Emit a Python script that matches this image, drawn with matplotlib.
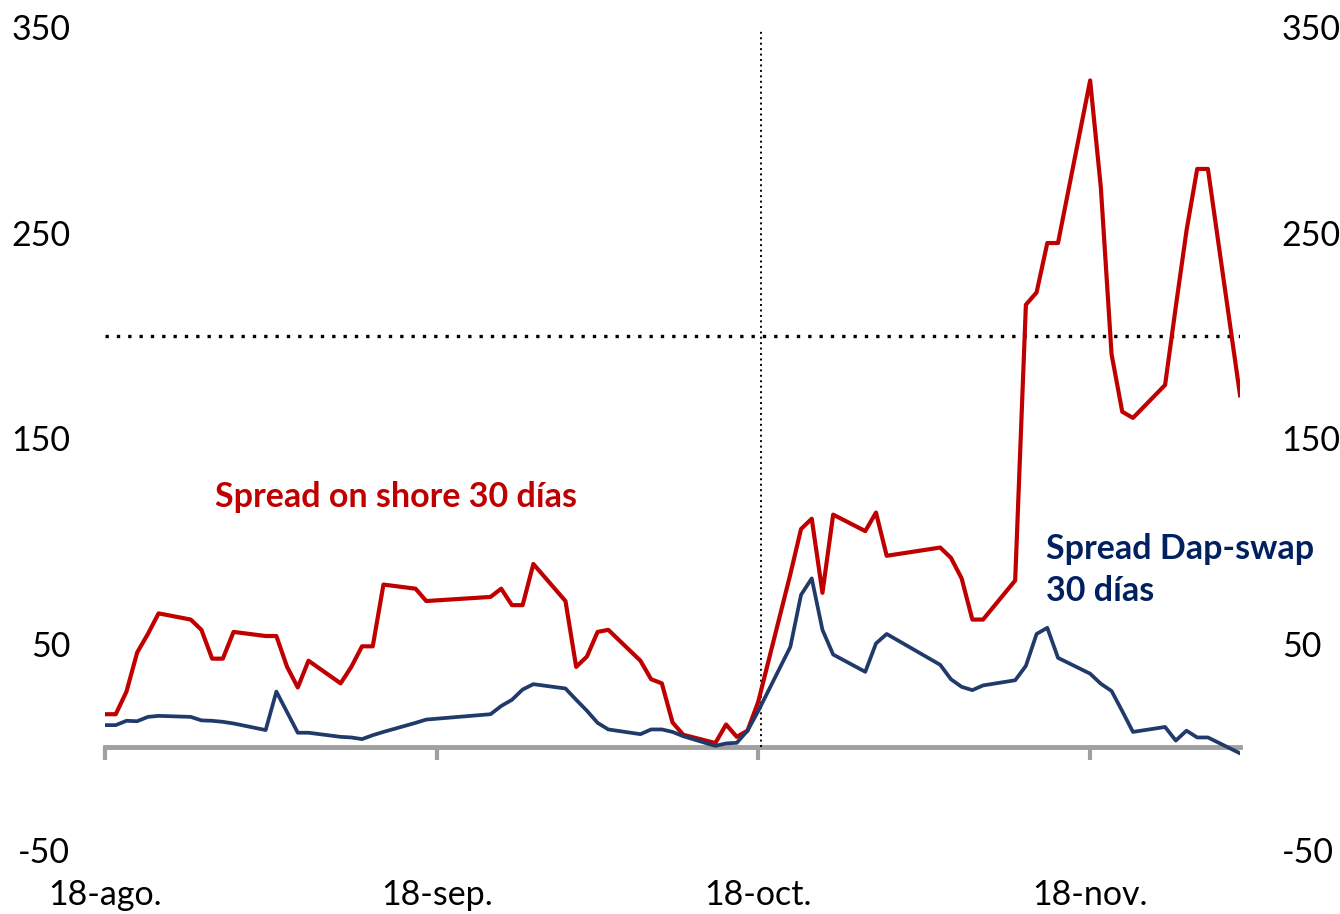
import matplotlib.pyplot as plt
import pandas as pd

plt.rcParams["font.family"] = ["Lato", "DejaVu Sans"]
plt.rcParams["axes.unicode_minus"] = False

dates = [
    "2013-08-18", "2013-08-19", "2013-08-20", "2013-08-21", "2013-08-22", "2013-08-23",
    "2013-08-26", "2013-08-27", "2013-08-28", "2013-08-29", "2013-08-30",
    "2013-09-02", "2013-09-03", "2013-09-04", "2013-09-05", "2013-09-06",
    "2013-09-09", "2013-09-10", "2013-09-11", "2013-09-12", "2013-09-13",
    "2013-09-16", "2013-09-17",
    "2013-09-23", "2013-09-24", "2013-09-25", "2013-09-26", "2013-09-27",
    "2013-09-30", "2013-10-01", "2013-10-02", "2013-10-03", "2013-10-04",
    "2013-10-07", "2013-10-08", "2013-10-09", "2013-10-10", "2013-10-11",
    "2013-10-14", "2013-10-15", "2013-10-16", "2013-10-17", "2013-10-18",
    "2013-10-21", "2013-10-22", "2013-10-23", "2013-10-24", "2013-10-25",
    "2013-10-28", "2013-10-29", "2013-10-30",
    "2013-11-04", "2013-11-05", "2013-11-06", "2013-11-07", "2013-11-08",
    "2013-11-11", "2013-11-12", "2013-11-13", "2013-11-14", "2013-11-15",
    "2013-11-18", "2013-11-19", "2013-11-20", "2013-11-21", "2013-11-22",
    "2013-11-25", "2013-11-26", "2013-11-27", "2013-11-28", "2013-11-29",
    "2013-12-02",
]

spread_onshore = [
    16, 16, 27, 46, 55, 65,
    62, 57, 43, 43, 56,
    54, 54, 39, 29, 42,
    31, 39, 49, 49, 79,
    77, 71,
    73, 77, 69, 69, 89,
    71, 39, 44, 56, 57,
    42, 33, 31, 12, 6,
    2, 11, 5, 8, 22,
    84, 106, 111, 75, 113,
    105, 114, 93,
    97, 92, 82, 62, 62,
    81, 215, 221, 245, 245,
    324, 272, 191, 163, 160,
    176, 214, 251, 281, 281,
    171,
]

spread_dap_swap = [
    10.7, 10.7, 12.8, 12.6, 14.7, 15.2,
    14.7, 13.0, 12.8, 12.3, 11.5,
    8.3, 27.0, 17.0, 7.0, 7.0,
    5.0, 4.7, 3.9, 5.8, 7.4,
    11.8, 13.4,
    16.0, 20.0, 23.0, 28.0, 30.6,
    28.5, 23.0, 17.7, 11.8, 8.6,
    6.3, 8.6, 8.6, 7.4, 5.3,
    0.6, 1.8, 2.1, 8.0, 17.5,
    48.7, 74.0, 82.0, 57.0, 45.0,
    36.6, 50.4, 55.0,
    40.0, 33.0, 29.3, 27.7, 30.0,
    32.5, 39.5, 55.0, 58.0, 43.4,
    35.7, 30.8, 27.3, 17.5, 7.4,
    9.8, 3.2, 8.0, 4.7, 4.7,
    -3.0,
]

tick_dates = ["2013-08-18", "2013-09-18", "2013-10-18", "2013-11-18"]
tick_labels = ["18-ago.", "18-sep.", "18-oct.", "18-nov."]
y_ticks = [-50, 50, 150, 250, 350]
reference_level = 200
event_date = "2013-10-18 06:00"

x = pd.to_datetime(dates)
red = "#C00000"
navy_line = "#203A6A"
navy_text = "#002060"
gray = "#A0A0A0"

fig = plt.figure(figsize=(13.4, 9.14), dpi=100)
ax = fig.add_axes([0.0784, 0.070, 0.847, 0.9005])

ax.plot(x, spread_onshore, color=red, lw=3.0, zorder=3)
ax.plot(x, spread_dap_swap, color=navy_line, lw=2.7, zorder=3)

x0, x1 = x[0], x[-1]
ax.hlines(reference_level, x0, x1, colors="black", linestyles=(0, (1, 2.4)), lw=2.4, zorder=2)
ax.vlines(pd.Timestamp(event_date), 0, 348, colors="black", linestyles=(0, (1, 1.8)), lw=1.4, zorder=2)

ax.set_xlim(x0, x1)
ax.set_ylim(-50, 350)
ax.set_yticks(y_ticks)

for side in ["top", "right", "left"]:
    ax.spines[side].set_visible(False)
ax.spines["bottom"].set_position(("data", 0))
ax.spines["bottom"].set_color(gray)
ax.spines["bottom"].set_linewidth(3.5)
ax.spines["bottom"].set_zorder(1)

ax.set_xticks(pd.to_datetime(tick_dates))
ax.set_xticklabels(tick_labels)
ax.tick_params(axis="x", direction="out", length=9, width=3, color=gray,
               pad=86, labelsize=24.5)
ax.tick_params(axis="y", length=0, pad=25, labelsize=24.5)

ax2 = ax.twinx()
ax2.set_ylim(-50, 350)
ax2.set_yticks(y_ticks)
ax2.tick_params(axis="y", length=0, pad=30, labelsize=24.5)
for side in ["top", "right", "left", "bottom"]:
    ax2.spines[side].set_visible(False)

ax.text(pd.Timestamp("2013-08-28 06:00"), 121.5, "Spread on shore 30 días",
        color=red, fontsize=24.5, fontweight="bold", ha="left", va="center")
ax.text(pd.Timestamp("2013-11-13 20:00"), 86, "Spread Dap-swap\n30 días",
        color=navy_text, fontsize=24.5, fontweight="bold", ha="left", va="center",
        linespacing=1.4)

fig.savefig("out.png", dpi=100)
